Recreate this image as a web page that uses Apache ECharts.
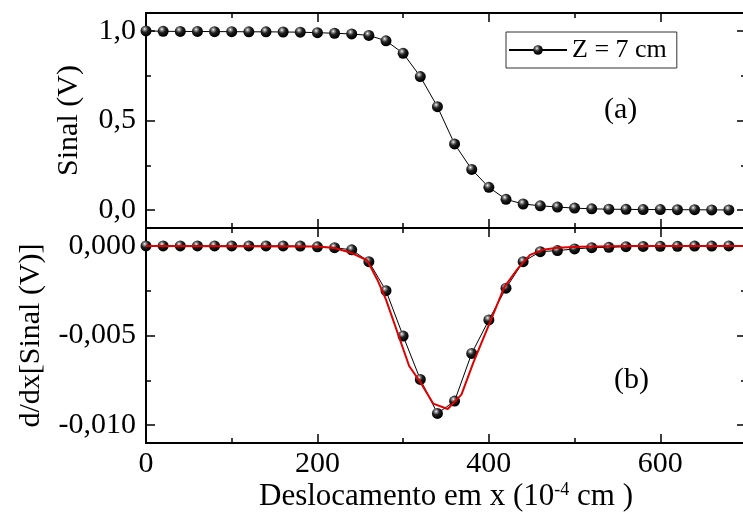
<!DOCTYPE html>
<html>
<head>
<meta charset="utf-8">
<script src="https://cdn.jsdelivr.net/npm/echarts@6/dist/echarts.min.js"></script>
<style>
html, body { margin: 0; padding: 0; background: #fff; }
#chart { width: 743px; height: 514px; }
</style>
</head>
<body>
<div id="chart"></div>
<script>
// deslocamento (10^-4 cm), passo de 20
const deslocamento = [0, 20, 40, 60, 80, 100, 120, 140, 160, 180, 200, 220, 240, 260, 280, 300, 320, 340,
  360, 380, 400, 420, 440, 460, 480, 500, 520, 540, 560, 580, 600, 620, 640, 660, 680]
const sinal = [1.0, 0.998, 0.997, 0.997, 0.996, 0.996, 0.995, 0.995, 0.994, 0.993, 0.99, 0.987, 0.983,
  0.975, 0.945, 0.875, 0.745, 0.577, 0.369, 0.227, 0.127, 0.06, 0.034, 0.024, 0.017, 0.011, 0.007,
  0.005, 0.004, 0.003, 0.003, 0.002, 0.002, 0.001, 0.001]
const derivada = [0, 0, 0, 0, 0, 0, 0, 0, 0, -0.00001, -0.00005, -0.0001, -0.00022, -0.00088, -0.0025,
  -0.00503, -0.00745, -0.00935, -0.00866, -0.006, -0.00413, -0.00236, -0.00088, -0.00032, -0.00026,
  -0.00017, -0.0001, -0.00008, -0.00004, -0.00003, -0.00002, -0.00002, -0.00001, -0.00001, 0]
// ajuste (curva vermelha)
const ajusteX = [0, 200, 220, 240, 258, 270, 280, 307, 320, 335, 352, 368, 382, 401, 418, 434, 448, 463,
  480, 506, 560, 700]
const ajusteY = [0, -0.00003, -0.00012, -0.0004, -0.0008, -0.0019, -0.003, -0.0067, -0.0076, -0.0088,
  -0.0091, -0.0083, -0.0065, -0.0043, -0.0023, -0.00125, -0.0005, -0.00022, -0.0001, -0.00004, 0, 0]

const sinalMajor = [0, 0.5, 1.0]
const sinalMinor = [0.25, 0.75]
const derivMajor = [-0.01, -0.005, 0]
const derivMinor = [-0.0075, -0.0025]

const FONT = 'Liberation Serif'
const chart = echarts.init(document.getElementById('chart'))

const ball = new echarts.graphic.RadialGradient(0.38, 0.32, 0.62, [
  { offset: 0, color: '#ffffff' },
  { offset: 0.18, color: '#9a9a9a' },
  { offset: 0.5, color: '#222222' },
  { offset: 1, color: '#000000' }
])

function xAx(grid, pos, labels) {
  return {
    type: 'value', gridIndex: grid, position: pos, min: 0, max: 700, interval: 200,
    name: labels ? 'Deslocamento em x (10{sup|-4} cm )' : '',
    nameLocation: 'middle', nameGap: 38,
    nameTextStyle: {
      fontFamily: FONT, fontSize: 31, color: '#000',
      rich: { sup: { fontFamily: FONT, fontSize: 18, color: '#000', verticalAlign: 'top' } }
    },
    axisLine: { show: true, onZero: false, lineStyle: { color: '#000', width: 2 } },
    axisTick: { show: true, inside: true, length: 9, lineStyle: { color: '#000', width: 1.5 } },
    minorTick: { show: true, splitNumber: 2, length: 5, lineStyle: { color: '#000', width: 1.5 } },
    axisLabel: { show: labels, showMaxLabel: false, margin: 6, fontFamily: FONT, fontSize: 30, color: '#000' },
    splitLine: { show: false },
    minorSplitLine: { show: false }
  }
}

function yAx(grid, pos, min, max, ticks, len, digits, name, gap) {
  return {
    type: 'value', gridIndex: grid, position: pos, min: min, max: max,
    name: name || '', nameLocation: 'middle', nameGap: gap || 0,
    nameTextStyle: { fontFamily: FONT, fontSize: 30, color: '#000' },
    axisLine: { show: true, onZero: false, lineStyle: { color: '#000', width: 2 } },
    axisTick: { show: true, inside: true, length: len, customValues: ticks,
      lineStyle: { color: '#000', width: 1.5 } },
    axisLabel: {
      show: digits != null, customValues: ticks, margin: 10,
      fontFamily: FONT, fontSize: 30, color: '#000',
      formatter: v => v.toFixed(digits || 0).replace('.', ',')
    },
    splitLine: { show: false }
  }
}

chart.setOption({
  animation: false,
  backgroundColor: '#fff',
  grid: [
    { left: 146, top: 13, width: 600, height: 215, outerBoundsMode: 'none', containLabel: false },
    { left: 146, top: 228, width: 600, height: 215, outerBoundsMode: 'none', containLabel: false }
  ],
  legend: {
    data: ['Z = 7 cm'],
    left: 506, top: 32,
    padding: [5, 10, 5, 2],
    backgroundColor: '#fff',
    borderColor: '#333', borderWidth: 1, borderRadius: 0,
    itemWidth: 58, itemHeight: 12, itemGap: 4,
    textStyle: { fontFamily: FONT, fontSize: 26, color: '#000' }
  },
  xAxis: [
    xAx(0, 'bottom', false),
    xAx(0, 'top', false),
    xAx(1, 'bottom', true),
    xAx(1, 'top', false)
  ],
  yAxis: [
    yAx(0, 'left', -0.1, 1.1, sinalMajor, 9, 1, 'Sinal (V)', 62),
    yAx(0, 'left', -0.1, 1.1, sinalMinor, 5),
    yAx(0, 'right', -0.1, 1.1, sinalMajor, 9),
    yAx(0, 'right', -0.1, 1.1, sinalMinor, 5),
    yAx(1, 'left', -0.011, 0.001, derivMajor, 9, 3, 'd/dx[Sinal (V)]', 100),
    yAx(1, 'left', -0.011, 0.001, derivMinor, 5),
    yAx(1, 'right', -0.011, 0.001, derivMajor, 9),
    yAx(1, 'right', -0.011, 0.001, derivMinor, 5)
  ],
  graphic: [
    { type: 'text', left: 604, top: 95, style: { text: '(a)', font: '30px "Liberation Serif"', fill: '#000' } },
    { type: 'text', left: 614, top: 365, style: { text: '(b)', font: '30px "Liberation Serif"', fill: '#000' } }
  ],
  series: [
    {
      name: 'Z = 7 cm', type: 'line', xAxisIndex: 0, yAxisIndex: 0,
      data: deslocamento.map((x, i) => [x, sinal[i]]),
      symbol: 'circle', symbolSize: 11,
      itemStyle: { color: ball, borderWidth: 0 },
      lineStyle: { color: '#000', width: 1 }
    },
    {
      name: 'derivada', type: 'line', xAxisIndex: 2, yAxisIndex: 4,
      data: deslocamento.map((x, i) => [x, derivada[i]]),
      symbol: 'circle', symbolSize: 11,
      itemStyle: { color: ball, borderWidth: 0 },
      lineStyle: { color: '#000', width: 1 }
    },
    {
      name: 'ajuste', type: 'line', xAxisIndex: 2, yAxisIndex: 4, z: 5,
      data: ajusteX.map((x, i) => [x, ajusteY[i]]),
      symbol: 'none',
      lineStyle: { color: '#e00000', width: 2 }
    }
  ]
})
</script>
</body>
</html>
